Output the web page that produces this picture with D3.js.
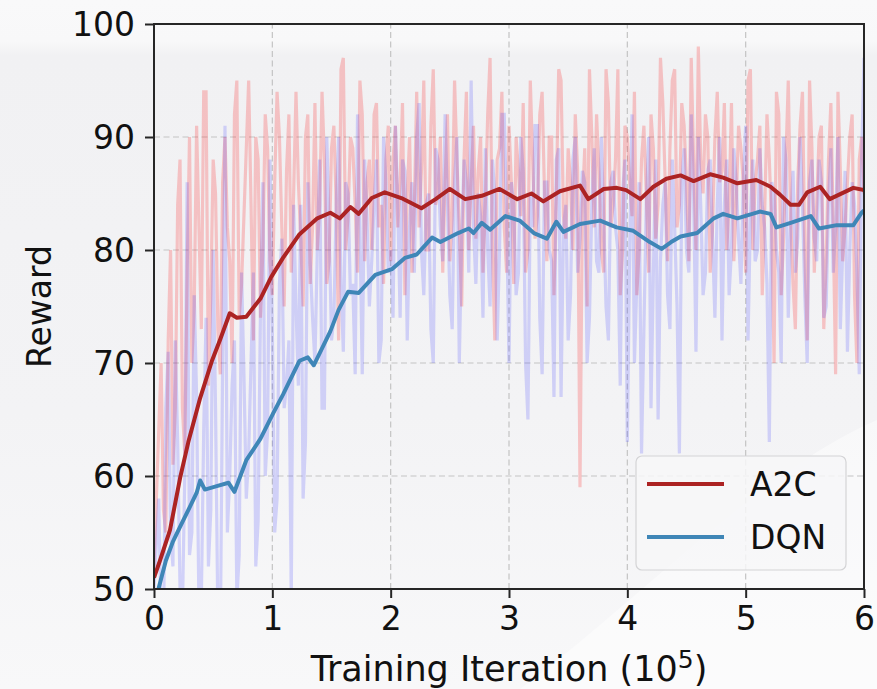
<!DOCTYPE html>
<html><head><meta charset="utf-8">
<script src="https://cdn.jsdelivr.net/npm/d3@7"></script>
<style>
html,body{margin:0;padding:0;background:#f3f3f5;}
svg{display:block;font-family:"DejaVu Sans",sans-serif;}
</style></head>
<body><svg id="chart" width="877" height="689"></svg>
<script>
// ---------- data ----------
const seriesNames = ["A2C", "DQN"];
const xTicks = [0, 1, 2, 3, 4, 5, 6];
const yTicks = [50, 60, 70, 80, 90, 100];

// raw (unsmoothed) rewards at x = 0, 0.04, ..., 6.0 (x10^5 iterations)
const a2cRaw = [
 52,64,57,72,61,84,66,78,70,91,
 73,94,76,85,69,90,79,92,74,83,
 95,72,88,80,89,76,94,82,87,78,
 94,81,90,77,93,84,88,79,91,72,
 97,83,89,78,92,86,80,93,84,88,
 79,91,86,76,90,84,82,95,80,96,
 85,78,92,83,88,75,94,86,81,90,
 84,97,72,89,82,91,77,87,93,80,
 88,83,94,79,90,85,95,81,86,92,
 59,89,96,82,87,78,93,84,96,80,
 90,83,76,88,85,92,81,97,86,89,
 96,84,91,79,88,98,85,90,82,94,
 87,80,93,84,89,78,96,86,91,83,
 88,70,92,81,95,77,86,94,72,89,
 84,91,79,93,69,87,82,90,76,88,85];
// raw rewards at the half steps x = 0.02, 0.06, ..., 5.98
const a2cRawHalf = [
 58,70,55,80,66,88,62,90,75,82,
 94,68,88,73,86,82,70,95,77,89,
 84,90,74,92,79,86,90,75,92,85,
 86,75,92,82,80,94,77,89,84,96,
 80,90,84,95,79,88,92,82,77,91,
 88,82,93,85,78,94,87,80,91,84,
 90,86,79,95,82,88,80,91,87,78,
 92,80,88,94,78,86,90,83,78,95,
 81,92,85,90,76,96,83,89,80,87,
 84,75,90,92,80,96,82,88,76,91,
 86,94,80,91,78,89,84,93,79,95,
 82,93,86,97,80,88,92,78,90,86,
 93,84,79,91,86,95,80,88,76,92,
 82,94,76,88,83,73,91,80,95,78,
 90,73,88,82,94,79,86,92,70,90];
const dqnRaw = [
 50,58,46,71,52,63,48,86,55,67,
 49,74,57,66,45,91,60,72,53,69,
 62,78,56,86,64,73,58,81,68,49,
 75,84,63,79,70,88,66,82,74,90,
 71,85,77,92,69,83,79,88,72,86,
 80,91,74,87,82,78,93,76,85,70,
 88,79,84,73,90,81,86,95,77,83,
 89,75,85,80,92,70,84,78,87,65,
 82,91,69,86,79,88,67,84,76,90,
 81,86,74,89,78,83,72,87,80,85,
 63,92,77,62,84,66,88,79,86,73,
 82,62,89,78,85,90,76,87,81,84,
 72,88,80,86,77,91,83,79,89,82,
 63,85,78,90,74,87,81,84,70,88,
 79,86,75,89,82,73,87,80,84,69,97];
const dqnRawHalf = [
 54,47,66,55,72,50,60,53,76,48,
 64,52,80,47,70,55,68,49,78,58,
 70,52,75,60,88,55,77,66,72,84,
 68,58,86,74,80,66,90,72,84,77,
 86,76,69,82,88,75,84,70,90,78,
 74,84,88,72,86,90,80,84,73,89,
 82,92,76,86,70,88,78,82,85,74,
 80,88,72,92,83,86,76,90,70,85,
 91,74,86,80,67,89,82,72,88,78,
 87,70,84,79,90,75,86,82,68,88,
 80,70,86,73,90,78,65,84,76,88,
 75,86,80,92,71,84,78,88,74,90,
 84,76,89,81,86,72,88,80,84,77,
 86,80,70,88,82,78,90,76,86,81,
 88,74,84,78,90,80,71,86,78,88];

// smoothed curves
const a2cSmoothX = [0,0.05,0.135,0.22,0.29,0.39,0.49,0.56,0.64,0.7,0.78,0.9,0.99,1.09,1.23,1.38,1.49,1.57,1.66,1.73,1.84,1.95,2.09,2.26,2.38,2.5,2.63,2.77,2.92,3.07,3.19,3.29,3.43,3.6,3.67,3.8,3.91,3.99,4.11,4.22,4.33,4.45,4.56,4.70,4.81,4.93,5.09,5.21,5.29,5.38,5.45,5.52,5.63,5.71,5.83,5.91,6.0];
const a2cSmooth  = [51.0,52.5,55.2,59.8,63.0,66.9,70.2,72.1,74.4,74.0,74.1,75.7,77.6,79.3,81.4,82.8,83.3,82.8,83.8,83.2,84.6,85.1,84.6,83.7,84.5,85.4,84.5,84.8,85.4,84.5,85.0,84.3,85.2,85.7,84.5,85.4,85.5,85.3,84.5,85.6,86.3,86.6,86.1,86.7,86.4,85.9,86.2,85.6,84.9,84.0,84.0,85.1,85.6,84.5,85.1,85.5,85.3];
const dqnSmoothX = [0,0.03,0.1,0.16,0.22,0.3,0.36,0.39,0.43,0.53,0.63,0.68,0.78,0.9,1.01,1.09,1.23,1.3,1.35,1.49,1.56,1.64,1.73,1.87,2.01,2.12,2.22,2.35,2.42,2.57,2.66,2.70,2.77,2.84,2.97,3.09,3.21,3.32,3.40,3.46,3.60,3.77,3.91,4.05,4.19,4.29,4.37,4.45,4.59,4.73,4.81,4.93,5.12,5.21,5.26,5.38,5.55,5.62,5.77,5.91,5.98,6.0];
const dqnSmooth  = [49.3,49.7,52.5,54.2,55.5,57.2,58.5,59.6,58.8,59.1,59.4,58.6,61.4,63.3,65.6,67.2,70.2,70.5,69.8,72.8,74.7,76.3,76.2,77.8,78.3,79.3,79.6,81.1,80.7,81.5,81.9,81.5,82.4,81.8,83.0,82.6,81.5,81.0,82.5,81.6,82.3,82.6,82.0,81.7,80.7,80.1,80.7,81.2,81.5,82.8,83.2,82.8,83.4,83.2,82.0,82.4,83.0,81.9,82.2,82.2,83.3,83.5];

const rawColors = ["#ff0000", "#2020ff"];
const rawOpacity = [0.2, 0.17];
const lineColors = ["#ac2323", "#3f86b7"];

// ---------- drawing ----------
const svg = d3.select("#chart");
const W = 877, H = 689;
const margin = {left: 154, right: 13, top: 24, bottom: 100};

// background
const defs = svg.append("defs");
const bg = defs.append("linearGradient").attr("id","bgGrad").attr("x1",0).attr("y1",0).attr("x2",0).attr("y2",1);
bg.append("stop").attr("offset","0").attr("stop-color","#f9f9fa");
bg.append("stop").attr("offset","0.06").attr("stop-color","#f8f8f9");
bg.append("stop").attr("offset","0.08").attr("stop-color","#f1f1f3");
bg.append("stop").attr("offset","0.6").attr("stop-color","#f3f3f5");
bg.append("stop").attr("offset","1").attr("stop-color","#f8f8f9");
svg.append("rect").attr("width",W).attr("height",H).attr("fill","url(#bgGrad)");
svg.append("path").attr("d","M520,689 C640,600 760,470 877,420 L877,689 Z").attr("fill","#ffffff").attr("opacity",0.45);

const x = d3.scaleLinear().domain([0,6]).range([margin.left, W - margin.right]);
const y = d3.scaleLinear().domain([50,100]).range([H - margin.bottom, margin.top]);

defs.append("clipPath").attr("id","plotClip").append("rect")
  .attr("x", x(0)).attr("y", y(100)).attr("width", x(6)-x(0)).attr("height", y(50)-y(100));

// grid
const grid = svg.append("g");
grid.selectAll("line.gx").data(xTicks.slice(1,-1)).join("line")
  .attr("x1", d=>x(d)).attr("x2", d=>x(d)).attr("y1", y(50)).attr("y2", y(100))
  .attr("stroke","#c4c4c4").attr("stroke-width",1.2).attr("stroke-dasharray","6,3.5");
grid.selectAll("line.gy").data(yTicks.slice(1,-1)).join("line")
  .attr("y1", d=>y(d)).attr("y2", d=>y(d)).attr("x1", x(0)).attr("x2", x(6))
  .attr("stroke","#c4c4c4").attr("stroke-width",1.2).attr("stroke-dasharray","6,3.5");

const plot = svg.append("g").attr("clip-path","url(#plotClip)");
function merge(full, half) {
  const pts = [];
  full.forEach((v,i) => {
    pts.push([i*0.04, v]);
    if (i < half.length) pts.push([i*0.04 + 0.02, half[i]]);
  });
  return pts;
}
const raws = [merge(a2cRaw, a2cRawHalf), merge(dqnRaw, dqnRawHalf)];
raws.forEach((pts, k) => {
  const line = d3.line().x(d=>x(d[0])).y(d=>y(d[1]));
  plot.append("path").attr("d", line(pts)).attr("fill","none")
    .attr("stroke", rawColors[k]).attr("stroke-opacity", rawOpacity[k])
    .attr("stroke-width", 3.2).attr("stroke-linejoin","miter").attr("stroke-miterlimit",3);
});
const smooths = [[a2cSmoothX, a2cSmooth],[dqnSmoothX, dqnSmooth]];
smooths.forEach(([xs, vs], k) => {
  const line = d3.line().x((d,i)=>x(xs[i])).y(d=>y(d));
  plot.append("path").attr("d", line(vs)).attr("fill","none")
    .attr("stroke", lineColors[k]).attr("stroke-width", 4).attr("stroke-linejoin","round");
});

// frame
svg.append("rect").attr("x", x(0)).attr("y", y(100)).attr("width", x(6)-x(0)).attr("height", y(50)-y(100))
  .attr("fill","none").attr("stroke","#262626").attr("stroke-width",2);

// axes
const xAxis = svg.append("g").attr("transform",`translate(0,${y(50)})`)
  .call(d3.axisBottom(x).tickValues(xTicks).tickFormat(d3.format("d")).tickSize(9).tickPadding(8));
const yAxis = svg.append("g").attr("transform",`translate(${x(0)},0)`)
  .call(d3.axisLeft(y).tickValues(yTicks).tickFormat(d3.format("d")).tickSize(9).tickPadding(10));
[xAxis, yAxis].forEach(g => {
  g.select(".domain").remove();
  g.selectAll(".tick line").attr("stroke","#262626").attr("stroke-width",2);
  g.selectAll(".tick text").attr("fill","#111").style("font-size","33px").style("font-family","DejaVu Sans");
});
yAxis.selectAll(".tick text").attr("dy","0.36em");
xAxis.selectAll(".tick text").attr("dy","0.74em");

// axis labels
const xl = svg.append("text").attr("x", (x(0)+x(6))/2).attr("y", 681)
  .attr("text-anchor","middle").attr("fill","#111").style("font-size","35px");
xl.append("tspan").text("Training Iteration (10");
xl.append("tspan").text("5").attr("dy","-13").style("font-size","25px");
xl.append("tspan").text(")").attr("dy","13");

svg.append("text").attr("transform",`translate(51,${(y(50)+y(100))/2}) rotate(-90)`)
  .attr("text-anchor","middle").attr("fill","#111").style("font-size","33px").text("Reward");

// legend
const lg = svg.append("g");
lg.append("rect").attr("x",636).attr("y",456).attr("width",210).attr("height",114).attr("rx",6)
  .attr("fill","#f7f7f8").attr("fill-opacity",0.85).attr("stroke","#d4d4d6").attr("stroke-width",1.2);
seriesNames.forEach((name,k) => {
  const cy = 484 + k*53;
  lg.append("line").attr("x1",647).attr("x2",724).attr("y1",cy).attr("y2",cy)
    .attr("stroke", lineColors[k]).attr("stroke-width",4);
  lg.append("text").attr("x",750).attr("y",cy).attr("dy","0.36em").attr("fill","#111")
    .style("font-size","33px").text(name);
});
</script></body></html>
